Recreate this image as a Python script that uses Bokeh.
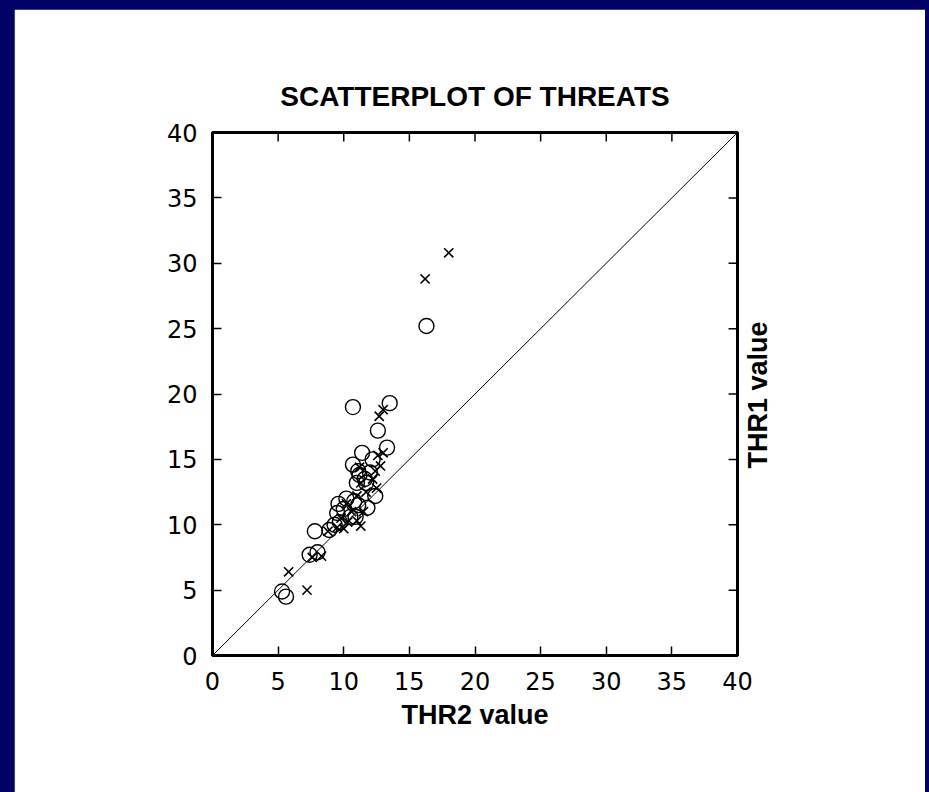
import math
from bokeh.plotting import figure
from bokeh.models import LinearAxis, Range1d, FixedTicker, GlobalInlineStyleSheet
from bokeh.embed import file_html
from bokeh.resources import INLINE

# THR2 (x) / THR1 (y) values, series drawn as circles
circ_thr2 = [5.3, 5.6, 7.4, 8.0, 7.8, 8.9, 9.3, 9.6, 10.0, 10.2, 10.5, 10.8, 11.0,
             10.7, 11.4, 11.2, 11.6, 12.0, 12.2, 12.6, 13.3, 12.4, 11.8, 10.7, 13.5,
             16.3, 9.7, 10.9, 11.1, 11.7, 11.1, 9.5]
circ_thr1 = [4.9, 4.5, 7.7, 7.9, 9.5, 9.6, 10.0, 11.6, 11.2, 12.0, 10.6, 11.8, 13.2,
             14.6, 15.5, 13.8, 13.5, 14.0, 15.0, 17.2, 15.9, 12.2, 11.3, 19.0, 19.3,
             25.2, 10.2, 10.6, 14.1, 13.2, 11.5, 10.9]

# series drawn as crosses
cross_thr2 = [5.8, 7.2, 7.6, 8.3, 8.8, 9.5, 9.8, 10.3, 10.6, 11.0, 11.3, 11.5, 11.0,
              10.2, 11.7, 11.3, 12.5, 12.2, 12.8, 12.6, 13.0, 12.4, 12.7, 13.0, 16.2,
              18.0, 10.0, 11.2]
cross_thr1 = [6.4, 5.0, 7.5, 7.6, 9.5, 9.8, 10.5, 10.2, 11.0, 10.3, 9.9, 11.0, 12.2,
              11.6, 12.5, 13.2, 12.8, 13.5, 14.5, 15.3, 15.5, 14.1, 18.3, 18.8, 28.8,
              30.8, 9.7, 14.4]

# reference line THR1 = THR2
diag = [0, 40]
ticks = [0, 5, 10, 15, 20, 25, 30, 35, 40]
x_max = 40
y_max = 40
tick_len = 0.68  # inward tick length on the top/right edges, in data units
y_title_text = "THR1 value"
y_title_start = 14.3  # where the rotated right-hand title begins (reads upward)

p = figure(width=911, height=783,
           x_range=Range1d(0, x_max), y_range=Range1d(0, y_max),
           output_backend="svg", toolbar_location=None,
           title="SCATTERPLOT OF THREATS",
           min_border_left=198, min_border_right=188,
           min_border_top=123, min_border_bottom=137)
p.margin = (9, 4, 0, 14)
p.stylesheets = [GlobalInlineStyleSheet(
    css="html, body { background-color: #000066; overflow: hidden; }")]

p.background_fill_color = "white"
p.border_fill_color = "white"
p.outline_line_color = "black"
p.outline_line_width = 3
p.xgrid.visible = False
p.ygrid.visible = False

p.title.align = "center"
p.title.text_font = "Liberation Sans"
p.title.text_font_style = "bold"
p.title.text_font_size = "28px"
p.title.text_color = "black"
p.title.standoff = 42

bottom_axis = p.below[0]
left_axis = p.left[0]

for ax in [bottom_axis, left_axis]:
    ax.ticker = FixedTicker(ticks=ticks)
    ax.major_tick_in = 9
    ax.major_tick_out = 0
    ax.major_tick_line_width = 1.5
    ax.major_tick_line_color = "black"
    ax.minor_tick_line_color = None
    ax.axis_line_width = 3
    ax.axis_line_color = "black"
    ax.major_label_text_font = "DejaVu Sans"
    ax.major_label_text_font_size = "24px"
    ax.major_label_text_color = "black"

bottom_axis.major_label_standoff = 16
left_axis.major_label_standoff = 15

bottom_axis.axis_label = "THR2 value"
bottom_axis.axis_label_standoff = 7
bottom_axis.axis_label_text_font = "Liberation Sans"
bottom_axis.axis_label_text_font_style = "bold"
bottom_axis.axis_label_text_font_size = "27px"
bottom_axis.axis_label_text_color = "black"

# right-hand axis: its single label is the THR1 title, rotated to read upward
right_axis = LinearAxis(ticker=FixedTicker(ticks=[y_title_start]),
                        major_label_overrides={y_title_start: y_title_text},
                        major_label_orientation=math.pi / 2,
                        major_label_standoff=15,
                        axis_line_color=None, major_tick_line_color=None,
                        minor_tick_line_color=None,
                        major_label_text_font="Liberation Sans",
                        major_label_text_font_style="bold",
                        major_label_text_font_size="27px",
                        major_label_text_color="black")
p.add_layout(right_axis, "right")

# inward ticks on the top and right edges
p.segment(x0=ticks, y0=[y_max] * len(ticks), x1=ticks,
          y1=[y_max - tick_len] * len(ticks), line_color="black", line_width=1.5)
p.segment(x0=[x_max] * len(ticks), y0=ticks, x1=[x_max - tick_len] * len(ticks),
          y1=ticks, line_color="black", line_width=1.5)

p.line(x=diag, y=diag, line_color="black", line_width=1)

p.scatter(x=circ_thr2, y=circ_thr1, marker="circle", size=15,
          fill_color=None, line_color="black", line_width=1.4)
p.scatter(x=cross_thr2, y=cross_thr1, marker="x", size=13,
          line_color="black", line_width=1.6)

open("out.html", "w").write(file_html(p, INLINE))
